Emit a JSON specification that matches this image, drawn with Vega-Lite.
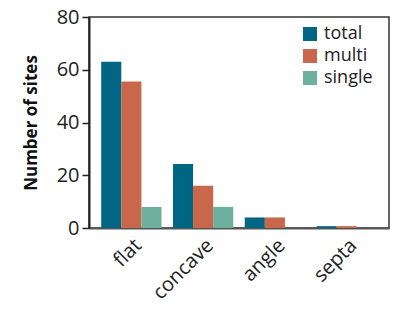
{
  "$schema": "https://vega.github.io/schema/vega-lite/v6.json",
  "width": 300,
  "height": 211,
  "autosize": "none",
  "padding": {"left": 89, "top": 17, "right": 14, "bottom": 89},
  "background": "white",
  "config": {
    "font": "Open Sans",
    "view": {"stroke": "#333333", "strokeWidth": 1.5},
    "axis": {"grid": false, "labelFont": "Open Sans", "labelFontSize": 20, "labelColor": "#222222", "domainColor": "#222222", "domainWidth": 2, "tickColor": "#222222", "tickWidth": 1.5}
  },
  "data": {
    "values": [
      {"shape": "flat", "type": "total", "sites": 63},
      {"shape": "flat", "type": "multi", "sites": 55.5},
      {"shape": "flat", "type": "single", "sites": 8},
      {"shape": "concave", "type": "total", "sites": 24.3},
      {"shape": "concave", "type": "multi", "sites": 16},
      {"shape": "concave", "type": "single", "sites": 8},
      {"shape": "angle", "type": "total", "sites": 4},
      {"shape": "angle", "type": "multi", "sites": 4},
      {"shape": "angle", "type": "single", "sites": 0},
      {"shape": "septa", "type": "total", "sites": 0.7},
      {"shape": "septa", "type": "multi", "sites": 0.7},
      {"shape": "septa", "type": "single", "sites": 0}
    ]
  },
  "mark": {"type": "bar"},
  "encoding": {
    "x": {
      "field": "shape", "type": "nominal", "sort": ["flat", "concave", "angle", "septa"],
      "scale": {"paddingInner": 0.16, "paddingOuter": 0.17},
      "axis": {"title": null, "labelAngle": -45, "ticks": false, "labelPadding": 7, "domainColor": "#555555"}
    },
    "xOffset": {"field": "type", "type": "nominal", "sort": ["total", "multi", "single"]},
    "y": {
      "field": "sites", "type": "quantitative",
      "scale": {"domain": [0, 80]},
      "axis": {"title": "Number of sites", "values": [0, 20, 40, 60, 80], "titleFont": "Open Sans", "titleFontSize": 17, "titleFontWeight": "bold", "titleColor": "#111111", "tickSize": 7, "labelPadding": 3, "titlePadding": 16}
    },
    "color": {
      "field": "type", "type": "nominal", "sort": ["total", "multi", "single"],
      "scale": {"domain": ["total", "multi", "single"], "range": ["#006683", "#c8674a", "#6cb09d"]},
      "legend": {"title": null, "orient": "none", "legendX": 212, "legendY": 8, "symbolType": "square", "symbolSize": 196, "symbolStrokeWidth": 0, "labelFontSize": 18, "labelFont": "Open Sans", "labelColor": "#222222", "labelOffset": 5, "rowPadding": 4, "padding": 0}
    }
  }
}
